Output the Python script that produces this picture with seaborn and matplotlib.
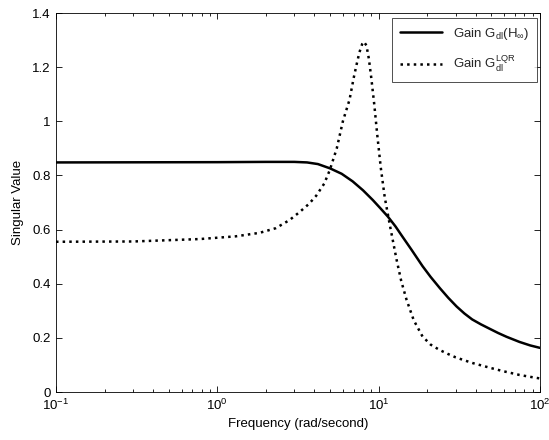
import matplotlib
matplotlib.use("Agg")
import matplotlib.pyplot as plt
import seaborn as sns
import pandas as pd
from matplotlib.ticker import LogLocator, FixedLocator, NullFormatter

# ---- data ----
freq_hinf = [0.1, 1.0, 2.0, 3.0, 3.6, 4.2, 5.0, 5.9, 6.9, 8.0, 9.2, 10.2,
             11.4, 12.7, 14.0, 16.0, 18.7, 21.0, 24.0, 27.0, 30.4, 34.0,
             38.0, 43.0, 48.6, 55.0, 62.0, 74.6, 87.0, 100.0]
gain_hinf = [0.848, 0.849, 0.850, 0.850, 0.848, 0.842, 0.826, 0.806, 0.778,
             0.745, 0.709, 0.680, 0.648, 0.612, 0.575, 0.525, 0.465, 0.425,
             0.383, 0.348, 0.316, 0.290, 0.268, 0.250, 0.234, 0.218, 0.204,
             0.185, 0.172, 0.163]

freq_lqr = [0.1, 0.3, 0.78, 1.3, 1.83, 2.3, 2.8, 3.24, 3.7, 4.1, 4.6, 4.98,
            5.5, 6.0, 6.6, 7.0, 7.3, 7.6, 7.9, 8.1, 8.4, 8.7, 9.0, 9.4, 9.8,
            10.3, 10.9, 11.7, 12.9, 13.8, 14.9, 16.5, 18.7, 21.0, 23.9, 27.0,
            30.0, 34.0, 38.2, 44.0, 50.0, 60.0, 74.6, 87.0, 100.0]
gain_lqr = [0.555, 0.556, 0.565, 0.575, 0.588, 0.605, 0.635, 0.665, 0.695,
            0.725, 0.770, 0.820, 0.900, 1.000, 1.080, 1.160, 1.210, 1.255,
            1.285, 1.294, 1.280, 1.230, 1.160, 1.060, 0.950, 0.830, 0.720,
            0.620, 0.490, 0.410, 0.340, 0.265, 0.205, 0.175, 0.155, 0.140,
            0.128, 0.117, 0.107, 0.097, 0.088, 0.076, 0.063, 0.056, 0.050]

label_hinf = r"Gain G$_{dl}$(H$_{\infty}$)"
label_lqr = r"Gain G$_{dl}^{LQR}$"
xlabel = "Frequency (rad/second)"
ylabel = "Singular Value"
yticks = [0, 0.2, 0.4, 0.6, 0.8, 1.0, 1.2, 1.4]
ytick_labels = ["0", "0.2", "0.4", "0.6", "0.8", "1", "1.2", "1.4"]

sns.set_style("white")
plt.rcParams["font.family"] = ["Liberation Sans", "DejaVu Sans"]
plt.rcParams["mathtext.default"] = "regular"
plt.rcParams["mathtext.fontset"] = "custom"
plt.rcParams["mathtext.rm"] = "Liberation Sans"
plt.rcParams["mathtext.it"] = "Liberation Sans"

df_h = pd.DataFrame({"freq": freq_hinf, "gain": gain_hinf})
df_l = pd.DataFrame({"freq": freq_lqr, "gain": gain_lqr})

fig = plt.figure(figsize=(5.49, 4.40), dpi=100)
ax = fig.add_axes([56 / 549, 1 - 392 / 440, 484 / 549, 379 / 440])

sns.lineplot(data=df_h, x="freq", y="gain", ax=ax, color="black",
             linewidth=1.8, linestyle="-", label=label_hinf)
sns.lineplot(data=df_l, x="freq", y="gain", ax=ax, color="black",
             linewidth=1.8, linestyle=":", label=label_lqr)

ax.set_xscale("log")
ax.set_xlim(0.1, 100)
ax.set_ylim(0, 1.4)
ax.yaxis.set_major_locator(FixedLocator(yticks))
ax.set_yticklabels(ytick_labels)
ax.xaxis.set_major_locator(LogLocator(base=10, numticks=10))
ax.xaxis.set_minor_locator(LogLocator(base=10, subs=range(2, 10), numticks=20))
ax.xaxis.set_minor_formatter(NullFormatter())

ax.tick_params(which="both", direction="in", top=True, right=True,
               bottom=True, left=True, color="black", labelsize=9.5,
               labelcolor="black")
ax.tick_params(which="major", length=4, width=0.6, pad=4)
ax.tick_params(which="minor", length=2, width=0.6)

for s in ax.spines.values():
    s.set_color("black")
    s.set_linewidth(0.6)

ax.set_xlabel(xlabel, fontsize=9.5, color="black", labelpad=4)
ax.set_ylabel(ylabel, fontsize=9.5, color="black", labelpad=6)

leg = ax.legend(loc="upper right", bbox_to_anchor=(0.994, 0.987),
                borderaxespad=0, fontsize=9.5, frameon=True, fancybox=False,
                handlelength=3.2, handletextpad=0.8, labelspacing=0.9,
                borderpad=0.6)
leg.get_frame().set_edgecolor("black")
leg.get_frame().set_linewidth(0.6)

fig.savefig("out.png", dpi=100, facecolor="white")
